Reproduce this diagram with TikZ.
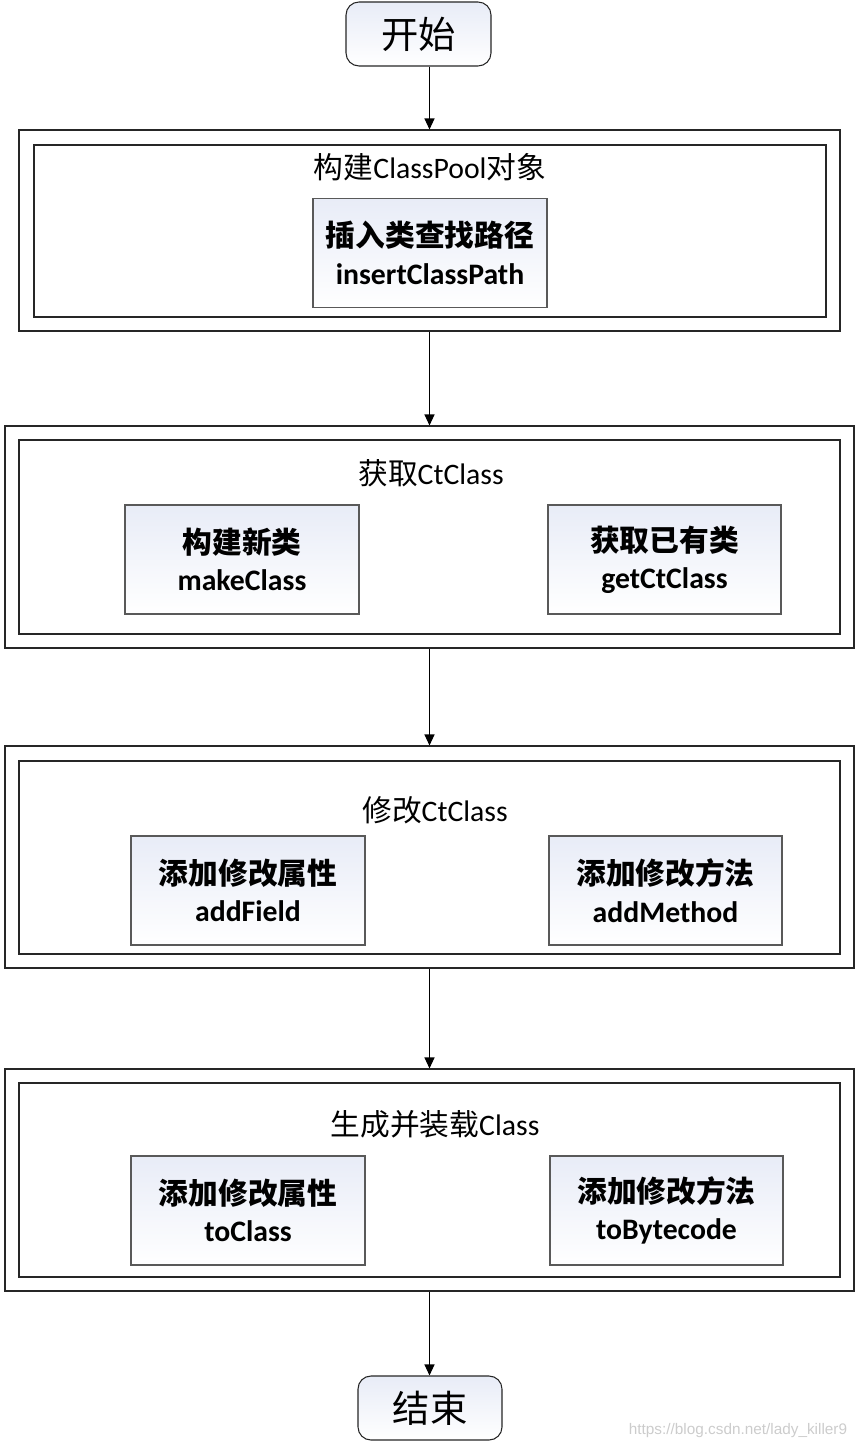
\documentclass[tikz,border=0pt]{standalone}
\usepackage{fontspec}
\setmainfont{Carlito}
\newfontfamily\cjk{Noto Sans CJK SC}
\newfontfamily\wmfont{Liberation Sans}
\usetikzlibrary{arrows.meta}
\definecolor{gradc}{RGB}{232,236,247}
\tikzset{
  outerbox/.style={draw=black!85, line width=0.8pt, inner sep=0, fill=white},
  innerbox/.style={draw=black!85, line width=0.8pt, inner sep=0},
  subbox/.style={draw=black!65, line width=0.8pt, inner sep=0, top color=gradc, bottom color=white,
    minimum width=175.5pt, minimum height=81.75pt, align=center,
    font=\bfseries\fontsize{22.3}{28}\selectfont},
  termbox/.style={draw=black!85, line width=0.8pt, rounded corners=9.75pt, inner sep=0,
    top color=gradc, bottom color=white, minimum height=48pt,
    font=\fontsize{28}{32}\selectfont},
  titletext/.style={font=\fontsize{22.3}{26}\selectfont, inner sep=0},
  arr/.style={-{Triangle[length=8.25pt,width=7.5pt]}, line width=0.9pt, draw=black}
}
\begin{document}
\begin{tikzpicture}[x=0.75pt,y=-0.75pt]
\useasboundingbox (0,0) rectangle (861,1448);

% start
\node[termbox, minimum width=108.75pt] (start) at (418.5,34) {\cjk 开始};

% box 1
\node[outerbox, minimum width=615.75pt, minimum height=150.75pt] (o1) at (429.5,230.5) {};
\node[innerbox, minimum width=594pt, minimum height=129pt] (i1) at (430,231) {};
\node[titletext] (t1) at (430,167) {{\cjk 构建}ClassPool{\cjk 对象}};
\node[subbox] (s1) at (430,253) {{\cjk 插入类查找路径}\\insertClassPath};

% box 2
\node[outerbox, minimum width=636.75pt, minimum height=166.5pt] (o2) at (429.5,537) {};
\node[innerbox, minimum width=615.75pt, minimum height=145.5pt] (i2) at (429.5,537) {};
\node[titletext] (t2) at (431,473) {{\cjk 获取}CtClass};
\node[subbox] (s2a) at (242,559.5) {{\cjk 构建新类}\\makeClass};
\node[subbox, minimum width=174.75pt] (s2b) at (664.5,559.5) {{\cjk 获取已有类}\\getCtClass};

% box 3
\node[outerbox, minimum width=636.75pt, minimum height=166.5pt] (o3) at (429.5,857) {};
\node[innerbox, minimum width=615.75pt, minimum height=144.75pt] (i3) at (429.5,857.5) {};
\node[titletext] (t3) at (435,810) {{\cjk 修改}CtClass};
\node[subbox] (s3a) at (248,890.5) {{\cjk 添加修改属性}\\addField};
\node[subbox, minimum width=174.75pt] (s3b) at (665.5,890.5) {{\cjk 添加修改方法}\\addMethod};

% box 4
\node[outerbox, minimum width=636.75pt, minimum height=166.5pt] (o4) at (429.5,1180) {};
\node[innerbox, minimum width=615.75pt, minimum height=145.5pt] (i4) at (429.5,1180) {};
\node[titletext] (t4) at (435,1124) {{\cjk 生成并装载}Class};
\node[subbox] (s4a) at (248,1210.5) {{\cjk 添加修改属性}\\toClass};
\node[subbox, minimum width=174.75pt] (s4b) at (666.5,1210.5) {{\cjk 添加修改方法}\\toBytecode};

% end
\node[termbox, minimum width=108pt] (end) at (430,1408) {\cjk 结束};

% arrows
\draw[arr] (start.south -| o1.north) -- (o1.north);
\draw[arr] (o1.south) -- (o2.north);
\draw[arr] (o2.south) -- (o3.north);
\draw[arr] (o3.south) -- (o4.north);
\draw[arr] (o4.south) -- (o4.south |- end.north);

% watermark
\node[font=\wmfont\fontsize{11.5}{13}\selectfont, text=black!20, inner sep=0] (wm) at (738,1431) {https://blog.csdn.net/lady\_killer9};
\end{tikzpicture}
\end{document}
